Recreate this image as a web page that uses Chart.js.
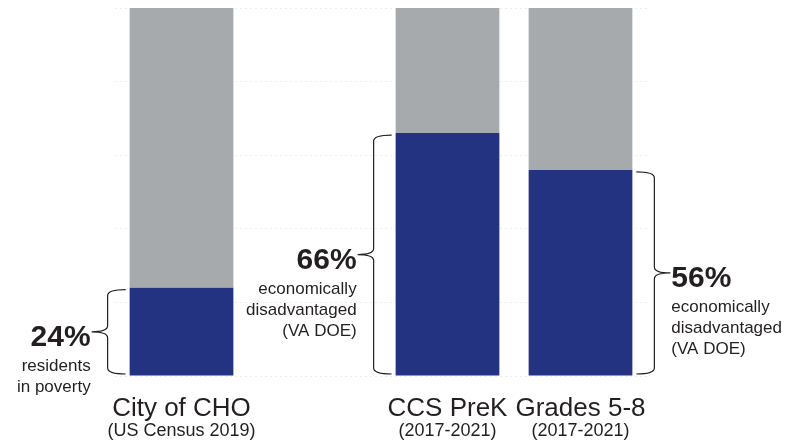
<!DOCTYPE html>
<html>
<head>
<meta charset="utf-8">
<script src="https://cdn.jsdelivr.net/npm/chart.js@4.4.1/dist/chart.umd.min.js"></script>
<style>
  html, body { margin: 0; padding: 0; background: #fff; }
  #wrap { width: 804px; height: 445px; }
</style>
</head>
<body>
<div id="wrap"><canvas id="myChart" width="804" height="445"></canvas></div>
<script>
// categories (second slot is an empty gap between the city and the school bars)
const categories = ['City of CHO', '', 'CCS PreK', 'Grades 5-8'];
const subLabels = ['(US Census 2019)', '', '(2017-2021)', '(2017-2021)'];

// share (%) in the highlighted group, and the rest
const highlighted = [24, null, 66, 56];
const remainder = [76, null, 34, 44];

// callout texts
const pctLabels = ['24%', '', '66%', '56%'];
const noteLines = [
    ['residents', 'in poverty'],
    [],
    ['economically', 'disadvantaged', '(VA DOE)'],
    ['economically', 'disadvantaged', '(VA DOE)']
];

const yTicks = [0, 20, 40, 60, 80, 100];

document.addEventListener('DOMContentLoaded', () => {
    const FONT = '"Liberation Sans", Arial, sans-serif';
    const TEXT = '#231f20';

    // which side of the bar the brace sits on
    const braceSide = ['left', null, 'left', 'right'];

    function drawBrace(ctx, hookX, lineX, tipX, yTop, yBot, tipY) {
        const r = 6;
        ctx.beginPath();
        ctx.moveTo(hookX, yTop);
        ctx.quadraticCurveTo(lineX, yTop, lineX, yTop + r);
        ctx.lineTo(lineX, tipY - r);
        ctx.quadraticCurveTo(lineX, tipY, tipX, tipY);
        ctx.moveTo(lineX, tipY + r);
        ctx.quadraticCurveTo(lineX, tipY, tipX, tipY);
        ctx.moveTo(lineX, tipY + r);
        ctx.lineTo(lineX, yBot - r);
        ctx.quadraticCurveTo(lineX, yBot, hookX, yBot);
        ctx.stroke();
    }

    const calloutPlugin = {
        id: 'callouts',
        afterDraw(chart) {
            const ctx = chart.ctx;
            const xs = chart.scales.x;
            const ys = chart.scales.y;
            const meta = chart.getDatasetMeta(0);
            ctx.save();
            ctx.fillStyle = TEXT;
            ctx.strokeStyle = '#231f20';
            ctx.lineWidth = 1.2;

            // category labels under the bars
            categories.forEach((c, i) => {
                if (!c) return;
                const x = xs.getPixelForValue(i);
                ctx.textAlign = 'center';
                ctx.textBaseline = 'alphabetic';
                ctx.font = '26px ' + FONT;
                ctx.fillText(c, x, 416);
                ctx.font = '18px ' + FONT;
                ctx.fillText(subLabels[i], x, 436);
            });

            // braces and percentage callouts
            highlighted.forEach((v, i) => {
                if (v == null || !braceSide[i]) return;
                const bar = meta.data[i];
                const yTop = ys.getPixelForValue(v) + 2;
                const yBot = ys.getPixelForValue(0) - 2;
                const tipY = (yTop + yBot) / 2;
                const dir = braceSide[i] === 'left' ? -1 : 1;
                const edge = bar.x + dir * bar.width / 2;
                const hookX = edge + dir * 4;
                const lineX = edge + dir * 22;
                const tipX = lineX + dir * 16;
                drawBrace(ctx, hookX, lineX, tipX, yTop, yBot, tipY);

                const tx = tipX + dir * 1;
                ctx.textAlign = dir < 0 ? 'right' : 'left';
                ctx.textBaseline = 'alphabetic';
                ctx.font = 'bold 30px ' + FONT;
                ctx.fillText(pctLabels[i], tx, tipY + 14);
                ctx.font = '17px ' + FONT;
                noteLines[i].forEach((line, k) => {
                    ctx.fillText(line, tx, tipY + 39 + k * 21);
                });
            });
            ctx.restore();
        }
    };

    const ctx = document.getElementById('myChart').getContext('2d');
    new Chart(ctx, {
        type: 'bar',
        data: {
            labels: categories,
            datasets: [{
                label: 'highlighted',
                data: highlighted,
                backgroundColor: '#233381',
                borderWidth: 0,
                categoryPercentage: 1,
                barPercentage: 0.78
            }, {
                label: 'remainder',
                data: remainder,
                backgroundColor: '#a7aaad',
                borderWidth: 0,
                categoryPercentage: 1,
                barPercentage: 0.78
            }]
        },
        options: {
            responsive: false,
            animation: false,
            layout: { padding: { left: 115, right: 157, top: 8, bottom: 69 } },
            plugins: {
                legend: { display: false },
                tooltip: { enabled: false }
            },
            scales: {
                x: {
                    stacked: true,
                    display: false
                },
                y: {
                    stacked: true,
                    min: 0,
                    max: 100,
                    afterBuildTicks: (scale) => {
                        scale.ticks = yTicks.map(v => ({ value: v }));
                    },
                    ticks: { display: false },
                    border: { display: false, dash: [2, 3] },
                    grid: {
                        color: '#ededed',
                        lineWidth: 1,
                        drawTicks: false
                    }
                }
            }
        },
        plugins: [calloutPlugin]
    });
});
</script>
</body>
</html>
